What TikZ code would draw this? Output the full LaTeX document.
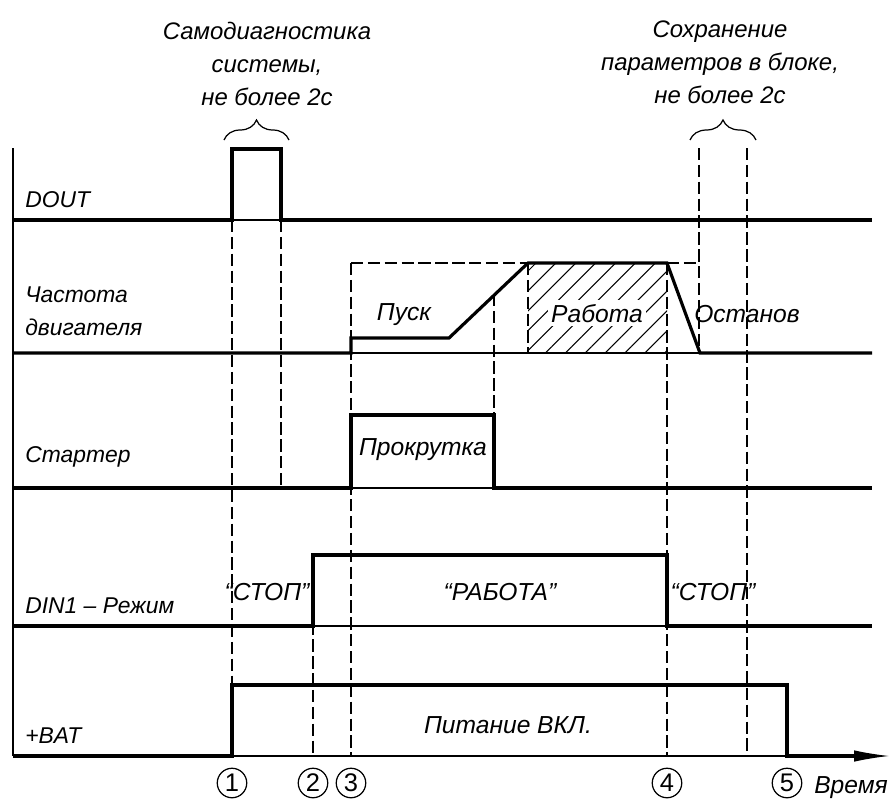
\documentclass[tikz,border=0pt]{standalone}
\usepackage{fontspec}
\setmainfont{Liberation Sans}
\usetikzlibrary{arrows.meta,patterns.meta,decorations.pathreplacing}
\tikzset{
  %% Signal, zero and guide lines
  tdSig/.style={line width=1.8pt, line join=miter},
  tdBase/.style={line width=0.6pt},
  tdGuide/.style={line width=0.7pt, dash pattern=on 7pt off 2.6pt},
  tdAxis/.style={line width=0.7pt, -{Latex[length=7mm, width=2.3mm]}},
  %% Texts
  tdRow/.style={anchor=base west, align=left, inner sep=0pt,
    font=\fontsize{13}{18.7}\selectfont\itshape},
  tdState/.style={anchor=base, inner sep=0pt,
    font=\fontsize{14}{17}\selectfont\itshape},
  tdNote/.style={anchor=base, align=center, inner sep=0pt,
    font=\fontsize{13.6}{18.7}\selectfont\itshape},
  tdBrace/.style={decorate, decoration={brace, amplitude=4mm}, line width=0.7pt},
  tdMark/.style={circle, draw, line width=0.7pt, minimum size=5.9mm, inner sep=0pt,
    font=\fontsize{14.5}{14.5}\selectfont},
}
\begin{document}
\begin{tikzpicture}[x=0.2mm, y=-0.2mm]
\useasboundingbox (0,0) rectangle (890,799);

%% Hatched work zone
\fill[pattern={Lines[angle=45, distance=8pt, line width=0.6pt]}] (528,263) rectangle (667,353);

%% Guide lines
\draw[tdGuide] (232,220) -- (232,685);
\draw[tdGuide] (281,220) -- (281,488);
\draw[tdGuide] (313,555) -- (313,756);
\draw[tdGuide] (351,263) -- (351,756);
\draw[tdGuide] (494,294) -- (494,415);
\draw[tdGuide] (528,263) -- (528,353);
\draw[tdGuide] (667,263) -- (667,756);
\draw[tdGuide] (699,148) -- (699,353);
\draw[tdGuide] (747,148) -- (747,756);
\draw[tdGuide] (351,263) -- (528,263);
\draw[tdGuide] (667,263) -- (699,263);

%% Zero lines and axes
\foreach \y in {220,353,488,626}
  \draw[tdBase] (13,\y) -- (872,\y);
\draw[tdBase, line width=0.8pt] (13,148) -- (13,756);
\draw[tdAxis] (13,756) -- (889,756);

%% Signals
\draw[tdSig] (13,220) -- (232,220) -- (232,149) -- (281,149) -- (281,220) -- (872,220);
\draw[tdSig] (13,353) -- (351,353) -- (351,338) -- (449,338) -- (528,263)
  -- (667,263) -- (700,353) -- (872,353);
\draw[tdSig] (13,488) -- (351,488) -- (351,415) -- (494,415) -- (494,488) -- (872,488);
\draw[tdSig] (13,626) -- (313,626) -- (313,555) -- (667,555) -- (667,626) -- (872,626);
\draw[tdSig] (13,756) -- (232,756) -- (232,685) -- (787,685) -- (787,756) -- (855,756);

%% Row names
\node[tdRow] (lDout)  at (25,207) {DOUT};
\node[tdRow] (lFreq)  at (25,335) {Частота\\двигателя};
\node[tdRow] (lStart) at (25,462) {Стартер};
\node[tdRow] (lDin)   at (25,613) {DIN1 – Режим};
\node[tdRow] (lBat)   at (25,743) {+BAT};

%% State labels
\node[tdState] (sPusk)  at (404,320) {Пуск};
\node[tdState, fill=white, inner sep=2pt] (sWork) at (597,322) {Работа};
\node[tdState] (sHalt)  at (747,322) {Останов};
\node[tdState] (sCrank) at (423,455) {Прокрутка};
\node[tdState] (sStopA) at (267,600) {“СТОП”};
\node[tdState] (sRun)   at (500,600) {“РАБОТА”};
\node[tdState] (sStopB) at (713,600) {“СТОП”};
\node[tdState] (sPower) at (508,733) {Питание ВКЛ.};
\node[tdState] (sTime)  at (851,793) {Время};

%% Notes with braces
\node[tdNote] (nDiag) at (267,105) {Самодиагностика\\системы,\\не более 2с};
\node[tdNote] (nSave) at (720,103) {Сохранение\\параметров в блоке,\\не более 2с};
\draw[tdBrace] (224,140) -- (289,140);
\draw[tdBrace] (690,140) -- (756,140);

%% Time marks
\node[tdMark] (m1) at (232,783) {1};
\node[tdMark] (m2) at (313,783) {2};
\node[tdMark] (m3) at (351,783) {3};
\node[tdMark] (m4) at (667,783) {4};
\node[tdMark] (m5) at (787,783) {5};

\end{tikzpicture}
\end{document}
